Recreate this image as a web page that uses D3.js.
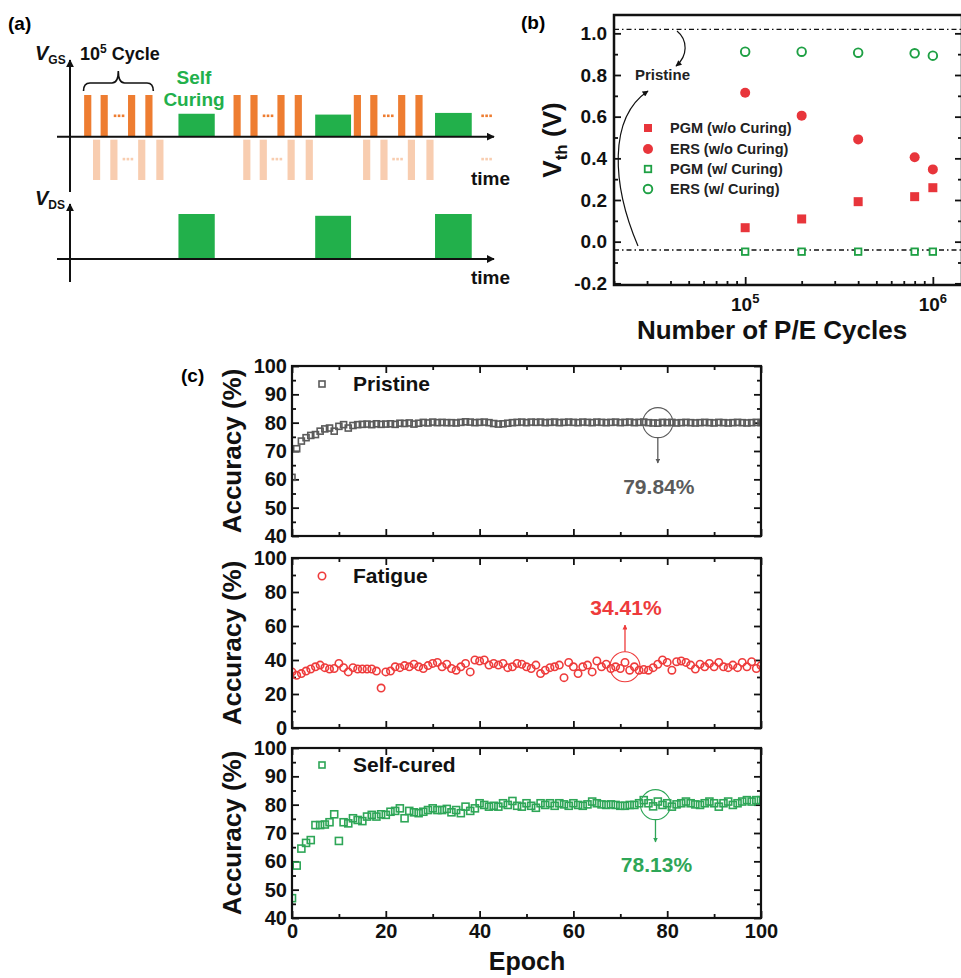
<!DOCTYPE html>
<html>
<head>
<meta charset="utf-8">
<title>Self curing</title>
<script src="https://cdnjs.cloudflare.com/ajax/libs/d3/7.8.5/d3.min.js"></script>
<style>
 body { margin: 0; background: #fff; }
 svg text { font-family: "Liberation Sans", Arial, sans-serif; font-weight: bold; }
</style>
</head>
<body>
<script>
// ---------- (a) pulse scheme, time in arbitrary units 0..100
var pgmPulses = [4.2, 8.1, 14.6, 18.7, 39.6, 43.6, 50.0, 54.1, 68.1, 72.0, 78.6, 82.7];
var ersPulses = [6.3, 10.4, 17.0, 21.3, 41.9, 45.8, 52.4, 56.7, 70.3, 74.4, 80.9, 85.3];
var pgmDots = [11.6, 46.9, 75.4, 98.7];
var ersDots = [13.7, 49.0, 77.6, 98.7];
var cureStart = [25.7, 58.1, 86.5];
var cureEnd = [34.3, 66.6, 95.2];
var cureVgs = [0.55, 0.53, 0.57];
var cureVds = [1.0, 0.96, 1.0];

// ---------- (b) Vth vs P/E cycles
var cycles = [1e5, 2e5, 4e5, 8e5, 1e6];
var pgmNoCure = [0.067, 0.109, 0.192, 0.216, 0.259];
var ersNoCure = [0.715, 0.605, 0.491, 0.405, 0.347];
var pgmCure = [-0.048, -0.048, -0.048, -0.048, -0.048];
var ersCure = [0.912, 0.912, 0.907, 0.904, 0.893];
var pristineLevels = [1.019, -0.04];
var vthTicks = [-0.2, 0, 0.2, 0.4, 0.6, 0.8, 1.0];

// ---------- (c) accuracy per epoch (epoch = index 0..100)
var pristineAcc = [60.7, 70.8, 73.5, 74.7, 75.5, 75.8, 77.0, 77.8, 78.1, 77.0, 78.7, 79.3, 78.1, 79.0, 79.3,
  79.4, 79.5, 79.3, 79.6, 79.4,
  79.5, 79.6, 79.4, 79.8, 79.7, 79.9, 79.5, 79.8, 80.1, 79.9,
  80.2, 80.0, 80.1, 80.0, 80.0, 79.9, 80.1, 80.3, 80.2, 80.0,
  80.1, 80.2, 80.0, 79.7, 79.5, 79.6, 79.8, 80.0, 80.1, 80.2,
  80.0, 80.2, 80.1, 80.2, 80.0, 80.1, 80.2, 80.0, 80.1, 80.2,
  80.1, 80.0, 80.2, 80.1, 80.0, 80.2, 80.1, 80.0, 80.1, 80.2,
  80.0, 80.1, 80.2, 80.0, 80.1, 80.2, 80.0, 79.9, 79.84, 80.1,
  80.0, 80.1, 79.9, 80.0, 80.1, 80.0, 79.9, 80.0, 80.1, 80.0,
  79.9, 80.1, 80.0, 79.9, 80.0, 80.1, 80.0, 79.9, 80.0, 80.1, 80.0];
var fatigueAcc = [33, 31, 32, 33.5, 34.7, 36, 37, 35.5, 34.7, 35,
  38, 35.5, 33, 35.5, 34.7, 34.7, 34.7, 34.7, 33.5, 23.5,
  33, 33.5, 36, 35.5, 36.7, 36, 37.5, 36, 35, 36.7,
  38, 38.6, 36, 37.5, 35, 34, 36, 38, 33, 40,
  39.4, 40, 37, 38, 37, 38, 35.5, 36, 38, 37.5,
  36, 35, 37, 32, 34, 35.5, 36, 37, 29.6, 38.6,
  36, 32, 36, 37, 33, 39.4, 36, 37.5, 35, 36,
  35, 38.6, 34, 36, 34, 34.41, 34, 35.5, 37.5, 40,
  38.6, 34, 39, 39.4, 38.6, 37, 34.7, 37.5, 36, 38,
  36, 38.6, 36, 35.5, 37, 35.5, 38.6, 36, 39, 35, 36.7];
var curedAcc = [47, 58.5, 64.5, 66.5, 67.5, 72.8, 72.8, 73, 73.8, 76.6, 67.2,
  73.8, 73.4, 75.2, 74.6, 74.2, 75.8, 76.4, 75.8, 76.6,
  76.4, 77.5, 77.8, 78.7, 75.2, 77.8, 77.3, 77, 77.5, 78.1,
  78.7, 78.1, 78.1, 78.5, 77.3, 78.1, 77, 79.3, 77.8, 78.7,
  80.5, 79.9, 79.3, 79.6, 79.3, 80.5, 79.9, 81.3, 79.6, 79.3, 80.5,
  79.6, 78.9, 80.5, 79.9, 80.5, 79.6, 80.5, 80.1, 79.6, 80.5,
  79.9, 79.6, 80.1, 81.1, 80.5, 80.1, 79.9, 80.1, 79.9, 79.6,
  79.6, 79.9, 79.9, 80.5, 81.6, 80.5, 79.4, 81.1, 79.9, 80.5,
  79.3, 80.1, 80.5, 81.1, 80.5, 80.1, 79.9, 80.5, 81.1, 80.5,
  79.3, 80.5, 81.1, 79.9, 80.5, 81.1, 81.6, 81.1, 81.6, 81.6];
var epochTicks = [0, 20, 40, 60, 80, 100];

var svg = d3.select("body").append("svg").attr("width", 961).attr("height", 978);
var defs = svg.append("defs");

function arrowMarker(id, color, w, h) {
  defs.append("marker").attr("id", id).attr("viewBox", "0 0 10 10")
    .attr("refX", 9).attr("refY", 5).attr("markerUnits", "userSpaceOnUse")
    .attr("markerWidth", w).attr("markerHeight", h).attr("orient", "auto")
    .append("path").attr("d", "M0,0 L10,5 L0,10 z").attr("fill", color);
}
arrowMarker("ax", "#111", 8, 8);
arrowMarker("thin", "#111", 7, 6);
arrowMarker("gray", "#5b5b5b", 5, 5);
arrowMarker("red", "#ee3b3b", 5, 5);
arrowMarker("green", "#2ea657", 5, 5);

// ======================= (a) =======================
var ORANGE = "#ee7d31", LORANGE = "#f8cdb0", GREEN_A = "#22b04b";
var ta = d3.scaleLinear().domain([0, 100]).range([70, 492]);
var yGs = d3.scaleLinear().domain([-1.04, 1]).range([180, 95]);
var yDs = d3.scaleLinear().domain([0, 1]).range([259, 214]);
var pw = 1.7;
var ga = svg.append("g");

ga.append("text").attr("x", 8).attr("y", 30).attr("font-size", 19).text("(a)");

ga.selectAll("rect.ers").data(ersPulses).join("rect")
  .attr("x", function(d) { return ta(d - pw / 2); })
  .attr("width", ta(pw) - ta(0))
  .attr("y", yGs(0) + 3).attr("height", yGs(-1.04) - yGs(0) - 3)
  .attr("fill", LORANGE);
ga.selectAll("rect.pgm").data(pgmPulses).join("rect")
  .attr("x", function(d) { return ta(d - pw / 2); })
  .attr("width", ta(pw) - ta(0))
  .attr("y", yGs(1)).attr("height", yGs(0) - yGs(1))
  .attr("fill", ORANGE);

function dots(arr, yy, color) {
  arr.forEach(function(d) {
    [-4, 0, 4].forEach(function(o) {
      ga.append("rect").attr("x", ta(d) + o - 1.2).attr("y", yy - 1.2)
        .attr("width", 2.6).attr("height", 2.6).attr("fill", color);
    });
  });
}
dots(pgmDots, 115.7, ORANGE);
dots(ersDots, 159, LORANGE);

cureStart.forEach(function(s, i) {
  ga.append("rect").attr("x", ta(s)).attr("width", ta(cureEnd[i]) - ta(s))
    .attr("y", yGs(cureVgs[i])).attr("height", yGs(0) - yGs(cureVgs[i])).attr("fill", GREEN_A);
  ga.append("rect").attr("x", ta(s)).attr("width", ta(cureEnd[i]) - ta(s))
    .attr("y", yDs(cureVds[i])).attr("height", yDs(0) - yDs(cureVds[i])).attr("fill", GREEN_A);
});

// axes of the scheme
ga.append("line").attr("x1", 70).attr("y1", 192).attr("x2", 70).attr("y2", 60)
  .attr("stroke", "#111").attr("stroke-width", 2).attr("marker-end", "url(#ax)");
ga.append("line").attr("x1", 57).attr("y1", yGs(0)).attr("x2", 494).attr("y2", yGs(0))
  .attr("stroke", "#111").attr("stroke-width", 2).attr("marker-end", "url(#ax)");
ga.append("line").attr("x1", 70).attr("y1", 282).attr("x2", 70).attr("y2", 204)
  .attr("stroke", "#111").attr("stroke-width", 2).attr("marker-end", "url(#ax)");
ga.append("line").attr("x1", 57).attr("y1", yDs(0)).attr("x2", 494).attr("y2", yDs(0))
  .attr("stroke", "#111").attr("stroke-width", 2).attr("marker-end", "url(#ax)");

// brace over the first cycle group
ga.append("path")
  .attr("d", "M83.5,91 Q83.5,83 90,83 H112 Q118.3,83 118.3,71 Q118.3,83 124.6,83 H147 Q153.3,83 153.3,91")
  .attr("fill", "none").attr("stroke", "#111").attr("stroke-width", 1.6);

var cyc = ga.append("text").attr("x", 80).attr("y", 60).attr("font-size", 18).attr("fill", "#111");
cyc.append("tspan").text("10");
cyc.append("tspan").attr("font-size", 12).attr("dy", -7).text("5");
cyc.append("tspan").attr("dy", 7).text(" Cycle");

ga.append("text").attr("x", 194).attr("y", 84).attr("text-anchor", "middle")
  .attr("font-size", 19).attr("fill", GREEN_A).text("Self");
ga.append("text").attr("x", 194).attr("y", 106).attr("text-anchor", "middle")
  .attr("font-size", 19).attr("fill", GREEN_A).text("Curing");

function vLabel(x, y, sub) {
  var t = ga.append("text").attr("x", x).attr("y", y).attr("font-size", 20).attr("fill", "#111");
  t.append("tspan").attr("font-style", "italic").text("V");
  t.append("tspan").attr("font-size", 12).attr("dy", 4).text(sub);
}
vLabel(35, 60, "GS");
vLabel(35, 205, "DS");
ga.append("text").attr("x", 471).attr("y", 185).attr("font-size", 19).attr("fill", "#111").text("time");
ga.append("text").attr("x", 471).attr("y", 284).attr("font-size", 19).attr("fill", "#111").text("time");

// ======================= (b) =======================
var RED_B = "#e8353b", GREEN_B = "#1ea044";
var xb = d3.scaleLog().domain([2e4, 1.43e6]).range([614, 962]);
var yb = d3.scaleLinear().domain([-0.208, 1.088]).range([285, 15]);
var gb = svg.append("g");

gb.append("text").attr("x", 521).attr("y", 29).attr("font-size", 19).text("(b)");

function strip(sel) { sel.select(".domain").remove(); sel.selectAll("text").attr("font-family", null).attr("font-size", null); }

gb.append("g").attr("transform", "translate(614,0)")
  .call(d3.axisLeft(yb).tickValues(vthTicks).tickSize(-7).tickPadding(7).tickSizeOuter(0)
    .tickFormat(function(d) { return d.toFixed(1); }))
  .call(strip)
  .selectAll("text").attr("font-size", 19).attr("fill", "#111");
gb.append("g").attr("transform", "translate(614,0)")
  .call(d3.axisLeft(yb).tickValues([-0.1, 0.1, 0.3, 0.5, 0.7, 0.9]).tickSize(-4).tickFormat(""))
  .call(strip);
gb.append("g").attr("transform", "translate(962,0)")
  .call(d3.axisRight(yb).tickValues(vthTicks).tickSize(-7).tickFormat(""))
  .call(strip);
gb.append("g").attr("transform", "translate(962,0)")
  .call(d3.axisRight(yb).tickValues([-0.1, 0.1, 0.3, 0.5, 0.7, 0.9]).tickSize(-4).tickFormat(""))
  .call(strip);
gb.append("g").attr("transform", "translate(0,285)")
  .call(d3.axisBottom(xb).tickValues([1e5, 1e6]).tickSize(-8).tickFormat(""))
  .call(strip);
gb.append("g").attr("transform", "translate(0,285)")
  .call(d3.axisBottom(xb).tickValues(xb.ticks().filter(function(d) {
      var l = Math.log10(d); return Math.abs(l - Math.round(l)) > 1e-6; }))
    .tickSize(-4).tickFormat(""))
  .call(strip);
gb.selectAll(".tick line").attr("stroke", "#111").attr("stroke-width", 1.8);

[1e5, 1e6].forEach(function(v) {
  var t = gb.append("text").attr("x", xb(v)).attr("y", 311).attr("text-anchor", "middle")
    .attr("font-size", 19).attr("fill", "#111");
  t.append("tspan").text("10");
  t.append("tspan").attr("font-size", 13).attr("dy", -8).text(Math.round(Math.log10(v)));
});

gb.append("rect").attr("x", 614).attr("y", 15).attr("width", 348).attr("height", 270)
  .attr("fill", "none").attr("stroke", "#111").attr("stroke-width", 2.5);

gb.selectAll("line.pris").data(pristineLevels).join("line")
  .attr("x1", 614).attr("x2", 962)
  .attr("y1", function(d) { return yb(d); }).attr("y2", function(d) { return yb(d); })
  .attr("stroke", "#111").attr("stroke-width", 1.4).attr("stroke-dasharray", "5,3,1.5,3");

function sq(g, x, y, s, fill, stroke, sw) {
  g.append("rect").attr("x", x - s / 2).attr("y", y - s / 2).attr("width", s).attr("height", s)
    .attr("fill", fill).attr("stroke", stroke).attr("stroke-width", sw || 0);
}
cycles.forEach(function(c, i) {
  sq(gb, xb(c), yb(pgmNoCure[i]), 9, RED_B, "none");
  gb.append("circle").attr("cx", xb(c)).attr("cy", yb(ersNoCure[i])).attr("r", 5).attr("fill", RED_B);
  sq(gb, xb(c), yb(pgmCure[i]), 6.5, "#fff", GREEN_B, 1.8);
  gb.append("circle").attr("cx", xb(c)).attr("cy", yb(ersCure[i])).attr("r", 4.3)
    .attr("fill", "#fff").attr("stroke", GREEN_B).attr("stroke-width", 1.9);
});

// legend
var legB = [
  { t: "PGM (w/o Curing)", y: 128 },
  { t: "ERS (w/o Curing)", y: 149 },
  { t: "PGM (w/ Curing)", y: 169 },
  { t: "ERS (w/ Curing)", y: 189 }
];
sq(gb, 648, legB[0].y, 8, RED_B, "none");
gb.append("circle").attr("cx", 648).attr("cy", legB[1].y).attr("r", 5).attr("fill", RED_B);
sq(gb, 648, legB[2].y, 6.5, "#fff", GREEN_B, 1.8);
gb.append("circle").attr("cx", 648).attr("cy", legB[3].y).attr("r", 4.3)
  .attr("fill", "#fff").attr("stroke", GREEN_B).attr("stroke-width", 1.9);
legB.forEach(function(l) {
  gb.append("text").attr("x", 670).attr("y", l.y + 5).attr("font-size", 14.5).attr("fill", "#222").text(l.t);
});

gb.append("text").attr("x", 635).attr("y", 80).attr("font-size", 15).attr("fill", "#222").text("Pristine");
gb.append("path").attr("d", "M677,31 C688,40 688,56 676,66")
  .attr("fill", "none").attr("stroke", "#111").attr("stroke-width", 1.2).attr("marker-end", "url(#thin)");
gb.append("path").attr("d", "M638,246 C612,185 608,118 648,91")
  .attr("fill", "none").attr("stroke", "#111").attr("stroke-width", 1.2).attr("marker-end", "url(#thin)");

var yl = gb.append("text").attr("transform", "translate(552,140) rotate(-90)")
  .attr("text-anchor", "middle").attr("dy", "0.35em").attr("font-size", 26).attr("fill", "#111");
yl.append("tspan").text("V");
yl.append("tspan").attr("font-size", 17).attr("dy", 6).text("th");
yl.append("tspan").attr("dy", -6).text(" (V)");
gb.append("text").attr("x", 772).attr("y", 339).attr("text-anchor", "middle")
  .attr("font-size", 26).attr("fill", "#111").text("Number of P/E Cycles");

// ======================= (c) =======================
var xE = d3.scaleLinear().domain([0, 100]).range([292, 761]);
svg.append("text").attr("x", 181).attr("y", 382).attr("font-size", 19).text("(c)");

var panels = [
  { id: "p1", top: 366, dom: [40, 100], major: 10, minor: 5, vals: pristineAcc, color: "#5b5b5b",
    shape: "square", size: 6, label: "Pristine", legY: 384, note: "79.84%", noteE: 78, noteV: 80,
    arrowTo: 463, noteY: 487, marker: "gray" },
  { id: "p2", top: 558, dom: [0, 100], major: 20, minor: 10, vals: fatigueAcc, color: "#ee3b3b",
    shape: "circle", size: 3.7, label: "Fatigue", legY: 576, note: "34.41%", noteE: 71, noteV: 36,
    arrowTo: 625, noteY: 608, marker: "red" },
  { id: "p3", top: 748, dom: [40, 100], major: 10, minor: 5, vals: curedAcc, color: "#2ea657",
    shape: "square", size: 7, label: "Self-cured", legY: 765, note: "78.13%", noteE: 77.5, noteV: 80,
    arrowTo: 842, noteY: 865, marker: "green" }
];
var PH = 170;

panels.forEach(function(p, k) {
  var y = d3.scaleLinear().domain(p.dom).range([p.top + PH, p.top]);
  var g = svg.append("g");
  var majors = d3.range(p.dom[0], p.dom[1] + 0.01, p.major);
  var minors = d3.range(p.dom[0] + p.minor, p.dom[1], p.major);

  g.append("g").attr("transform", "translate(" + xE(0) + ",0)")
    .call(d3.axisLeft(y).tickValues(majors).tickSize(-7).tickPadding(5).tickSizeOuter(0))
    .call(strip).selectAll("text").attr("font-size", 20).attr("fill", "#111");
  g.append("g").attr("transform", "translate(" + xE(0) + ",0)")
    .call(d3.axisLeft(y).tickValues(minors).tickSize(-4).tickFormat("")).call(strip);
  g.append("g").attr("transform", "translate(" + xE(100) + ",0)")
    .call(d3.axisRight(y).tickValues(majors).tickSize(-7).tickFormat("")).call(strip);
  g.append("g").attr("transform", "translate(" + xE(100) + ",0)")
    .call(d3.axisRight(y).tickValues(minors).tickSize(-4).tickFormat("")).call(strip);

  var bottomAx = g.append("g").attr("transform", "translate(0," + (p.top + PH) + ")")
    .call(d3.axisBottom(xE).tickValues(epochTicks).tickSize(-7).tickPadding(6)
      .tickFormat(k === 2 ? d3.format("d") : ""))
    .call(strip);
  bottomAx.selectAll("text").attr("font-size", 20).attr("fill", "#111");
  g.append("g").attr("transform", "translate(0," + (p.top + PH) + ")")
    .call(d3.axisBottom(xE).tickValues([10, 30, 50, 70, 90]).tickSize(-4).tickFormat("")).call(strip);
  g.append("g").attr("transform", "translate(0," + p.top + ")")
    .call(d3.axisTop(xE).tickValues(epochTicks).tickSize(-7).tickFormat("")).call(strip);
  g.append("g").attr("transform", "translate(0," + p.top + ")")
    .call(d3.axisTop(xE).tickValues([10, 30, 50, 70, 90]).tickSize(-4).tickFormat("")).call(strip);
  g.selectAll(".tick line").attr("stroke", "#111").attr("stroke-width", 1.8);

  defs.append("clipPath").attr("id", "clip" + p.id).append("rect")
    .attr("x", xE(0)).attr("y", p.top).attr("width", xE(100) - xE(0)).attr("height", PH);

  var pts = g.append("g").attr("clip-path", "url(#clip" + p.id + ")");
  if (p.shape === "square") {
    pts.selectAll("rect").data(p.vals).join("rect")
      .attr("x", function(d, i) { return xE(i) - p.size / 2; })
      .attr("y", function(d) { return y(d) - p.size / 2; })
      .attr("width", p.size).attr("height", p.size)
      .attr("fill", "none").attr("stroke", p.color).attr("stroke-width", 1.6);
  } else {
    pts.selectAll("circle").data(p.vals).join("circle")
      .attr("cx", function(d, i) { return xE(i); })
      .attr("cy", function(d) { return y(d); })
      .attr("r", p.size)
      .attr("fill", "none").attr("stroke", p.color).attr("stroke-width", 1.6);
  }

  g.append("rect").attr("x", xE(0)).attr("y", p.top).attr("width", xE(100) - xE(0)).attr("height", PH)
    .attr("fill", "none").attr("stroke", "#111").attr("stroke-width", 2.2);

  // legend
  if (p.shape === "square") {
    g.append("rect").attr("x", 322 - 3).attr("y", p.legY - 3).attr("width", 6).attr("height", 6)
      .attr("fill", "none").attr("stroke", p.color).attr("stroke-width", 1.6);
  } else {
    g.append("circle").attr("cx", 322).attr("cy", p.legY).attr("r", 3.7)
      .attr("fill", "none").attr("stroke", p.color).attr("stroke-width", 1.6);
  }
  g.append("text").attr("x", 353).attr("y", p.legY + 7).attr("font-size", 21).attr("fill", "#111").text(p.label);

  // annotation
  var cx = xE(p.noteE), cy = y(p.noteV), r = 15;
  var dir = p.arrowTo > cy ? 1 : -1;
  g.append("circle").attr("cx", cx).attr("cy", cy).attr("r", r)
    .attr("fill", "none").attr("stroke", p.color).attr("stroke-width", 1.1);
  g.append("line").attr("x1", cx).attr("y1", cy + dir * r).attr("x2", cx).attr("y2", p.arrowTo)
    .attr("stroke", p.color).attr("stroke-width", 1.3).attr("marker-end", "url(#" + p.marker + ")");
  g.append("text").attr("x", cx + 1).attr("y", p.noteY).attr("dy", "0.35em").attr("text-anchor", "middle")
    .attr("font-size", 21).attr("fill", p.color).text(p.note);

  svg.append("text").attr("transform", "translate(232," + (p.top + PH / 2) + ") rotate(-90)")
    .attr("text-anchor", "middle").attr("dy", "0.35em").attr("font-size", 26).attr("fill", "#111")
    .text("Accuracy (%)");
});

svg.append("text").attr("x", 527).attr("y", 970).attr("text-anchor", "middle")
  .attr("font-size", 25).attr("fill", "#111").text("Epoch");
</script>
</body>
</html>
